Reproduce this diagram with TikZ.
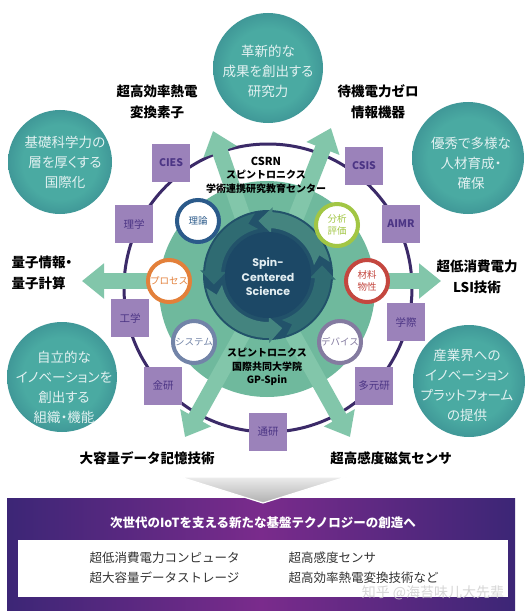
\documentclass[tikz,border=0pt]{standalone}
\usepackage{fontspec}
\setmainfont{Noto Sans CJK JP}
\newfontfamily\jpp{Noto Sans CJK JP}[RawFeature=+palt]
\newfontfamily\scfont{Noto Sans CJK SC}
\newfontfamily\spinfont{Poppins}
\usetikzlibrary{arrows.meta}
\definecolor{discgreen}{HTML}{6FB99D}
\definecolor{arrowgreen}{HTML}{82C6AA}
\definecolor{ringpurple}{HTML}{3B2A68}
\definecolor{boxpurple}{HTML}{9B82BA}
\definecolor{boxtext}{HTML}{4C3585}
\definecolor{teallight}{HTML}{4AAAA2}
\definecolor{tealdark}{HTML}{1C5873}
\definecolor{tealtext}{HTML}{E2F1F1}
\definecolor{spinouter}{HTML}{22526A}
\definecolor{spininner}{HTML}{1C4866}
\definecolor{spinA}{HTML}{44847F}
\definecolor{spinB}{HTML}{2F6B72}
\definecolor{spintext}{HTML}{E2EDF1}
\definecolor{cblue}{HTML}{2B5A8A}
\definecolor{cyellow}{HTML}{A2C644}
\definecolor{corange}{HTML}{E3803A}
\definecolor{cred}{HTML}{C4473F}
\definecolor{cslate}{HTML}{7284A8}
\definecolor{cgray}{HTML}{847BA0}
\definecolor{pdark}{HTML}{3C2676}
\definecolor{pmid}{HTML}{7A2B8C}
\definecolor{itemtext}{HTML}{333333}
\pgfdeclareradialshading{ballshade}{\pgfpoint{0bp}{0bp}}{color(0bp)=(teallight); color(18bp)=(teallight); color(50bp)=(tealdark)}
\newcommand\spinarrow[3]{%
  \fill[#3] (#1:47) arc[start angle=#1, end angle=#2-14, radius=47]
    -- (#2-14:42) -- (#2:55) -- (#2-14:68) -- (#2-14:63)
    arc[start angle=#2-14, end angle=#1, radius=63] -- (#1+9:55) -- cycle;}
\begin{document}
\begin{tikzpicture}[x=1pt,y=-1pt,
  tealball/.style={circle, minimum size=#1, inner sep=0pt, shading=ballshade},
  balltext/.style={text=tealtext, align=center, font=\jpp\fontsize{13.5}{20}\selectfont},
  lbl/.style={text=black, align=center, font=\fontsize{13.5}{21}\selectfont\bfseries},
  pbox/.style={rectangle, fill=boxpurple, minimum width=38pt, minimum height=38pt, inner sep=0pt, text=boxtext, font=\fontsize{10.5}{12}\selectfont},
  smallc/.style={circle, draw=#1, line width=4pt, fill=white, minimum size=42pt, inner sep=0pt, text=#1, align=center, font=\fontsize{9.5}{11.5}\selectfont},
  bigarrow/.style={line width=16pt, draw=arrowgreen, -{Triangle[width=34pt,length=22pt]}},
  smalltitle/.style={text=black, align=center, font=\fontsize{10}{13.5}\selectfont\bfseries},
  item/.style={anchor=west, text=itemtext, font=\fontsize{12.5}{15}\selectfont}]
\useasboundingbox (0,0) rectangle (531,615);
\fill[white] (0,0) rectangle (531,615);

% teal balls
\node[tealball=110pt] (b1) at (268,68) {};
\node[tealball=104pt] (b2) at (60,162) {};
\node[tealball=112pt] (b3) at (468,158) {};
\node[tealball=110pt] (b4) at (62,377) {};
\node[tealball=112pt] (b5) at (469,381) {};
\node[balltext] (t1) at (268,71) {革新的な\\成果を創出する\\研究力};
\node[balltext] (t2) at (65,162) {基礎科学力の\\層を厚くする\\国際化};
\node[balltext] (t3) at (471,163) {優秀で多様な\\人材育成・\\確保};
\node[balltext] (t4) at (64,387) {自立的な\\イノベーションを\\創出する\\組織・機能};
\node[balltext] (t5) at (467,385) {産業界への\\イノベーション\\プラットフォーム\\の提供};

% ring
\coordinate (rc) at (268,288);
\draw[ringpurple, line width=3pt] (rc) circle[radius=144];

% green disc
\fill[discgreen] (267,289) circle[radius=108];

% big arrows
\coordinate (a1s) at (251,241); \coordinate (a1e) at (213,131);
\coordinate (a2s) at (287,240); \coordinate (a2e) at (331,128);
\coordinate (a3s) at (165,281); \coordinate (a3e) at (82,281);
\coordinate (a4s) at (372,281); \coordinate (a4e) at (441,281);
\coordinate (a5s) at (243,333); \coordinate (a5e) at (185,437);
\coordinate (a6s) at (292,333); \coordinate (a6e) at (350,437);
\draw[bigarrow] (a1s) -- (a1e);
\draw[bigarrow] (a2s) -- (a2e);
\draw[bigarrow] (a3s) -- (a3e);
\draw[bigarrow] (a4s) -- (a4e);
\draw[bigarrow] (a5s) -- (a5e);
\draw[bigarrow] (a6s) -- (a6e);

% purple boxes on ring
\node[pbox] (cies) at (171,163) {\bfseries CIES};
\node[pbox] (rigaku) at (134,224) {理学};
\node[pbox] (kogaku) at (130,318) {工学};
\node[pbox] (kinken) at (163,386) {金研};
\node[pbox] (tsuken) at (268,432) {通研};
\node[pbox] (tagen) at (374,386) {多元研};
\node[pbox] (gakusai) at (406,322) {学際};
\node[pbox] (aimr) at (401,224) {\bfseries AIMR};
\node[pbox] (csis) at (364,166) {\bfseries CSIS};

% spin-centered core
\begin{scope}[shift={(268,275)}, yscale=-1]
  \fill[spinouter] (0,0) circle[radius=65];
  \spinarrow{12}{100}{spinA}
  \spinarrow{102}{190}{spinB}
  \spinarrow{192}{285}{spinA}
  \spinarrow{287}{370}{spinB}
  \fill[spininner] (0,0) circle[radius=43];
\end{scope}
\node[text=spintext, align=center, font=\spinfont\bfseries\fontsize{11}{14.5}\selectfont] (core) at (268,277) {Spin-\\Centered\\Science};

% small circles
\node[smallc=cblue] (riron) at (198,221) {理論};
\node[smallc=cyellow] (bunseki) at (337,225) {分析\\評価};
\node[smallc=corange] (process) at (169,281) {プロセス};
\node[smallc=cred] (zairyo) at (367,281) {材料\\物性};
\node[smallc=cslate] (system) at (194,342) {システム};
\node[smallc=cgray] (device) at (340,342) {デバイス};

% center titles
\node[smalltitle] (csrn) at (266,175) {{\fontsize{11}{13.5}\selectfont CSRN}\\スピントロニクス\\学術連携研究教育センター};
\node[smalltitle] (gpspin) at (267,367) {スピントロニクス\\国際共同大学院\\GP-Spin};

% outer labels
\node[lbl] (l1) at (157,102) {超高効率熱電\\変換素子};
\node[lbl] (l2) at (378,102) {待機電力ゼロ\\情報機器};
\node[lbl, anchor=west, align=left] (l3) at (8,273) {量子情報{\jpp ・}\\量子計算};
\node[lbl] (l4) at (477,277) {超低消費電力\\LSI技術};
\node[lbl] (l5) at (147,458) {大容量データ記憶技術};
\node[lbl] (l6) at (391,458) {超高感度磁気センサ};

% bottom panel
\shade[left color=pdark, right color=pdark, middle color=pmid] (7,498) rectangle (515,610);
\fill[white] (18,540) rectangle (508,597);
\shade[top color=gray!15, bottom color=gray!62, draw=white, line width=1.2pt] (180,477) -- (346,477) -- (263,503) -- cycle;
\node[text=white, font=\fontsize{12.5}{15}\selectfont\bfseries] (title) at (263,523) {次世代のIoTを支える新たな基盤テクノロジーの創造へ};
\node[item] (i1) at (86,558) {超低消費電力コンピュータ};
\node[item] (i2) at (86,578) {超大容量データストレージ};
\node[item] (i3) at (285,558) {超高感度センサ};
\node[item] (i4) at (285,578) {超高効率熱電変換技術など};
\node[text=gray!38, opacity=0.85, font=\scfont\fontsize{14}{16}\selectfont] (wm) at (433,593) {知乎 @海苔味儿大先辈};
\end{tikzpicture}
\end{document}
